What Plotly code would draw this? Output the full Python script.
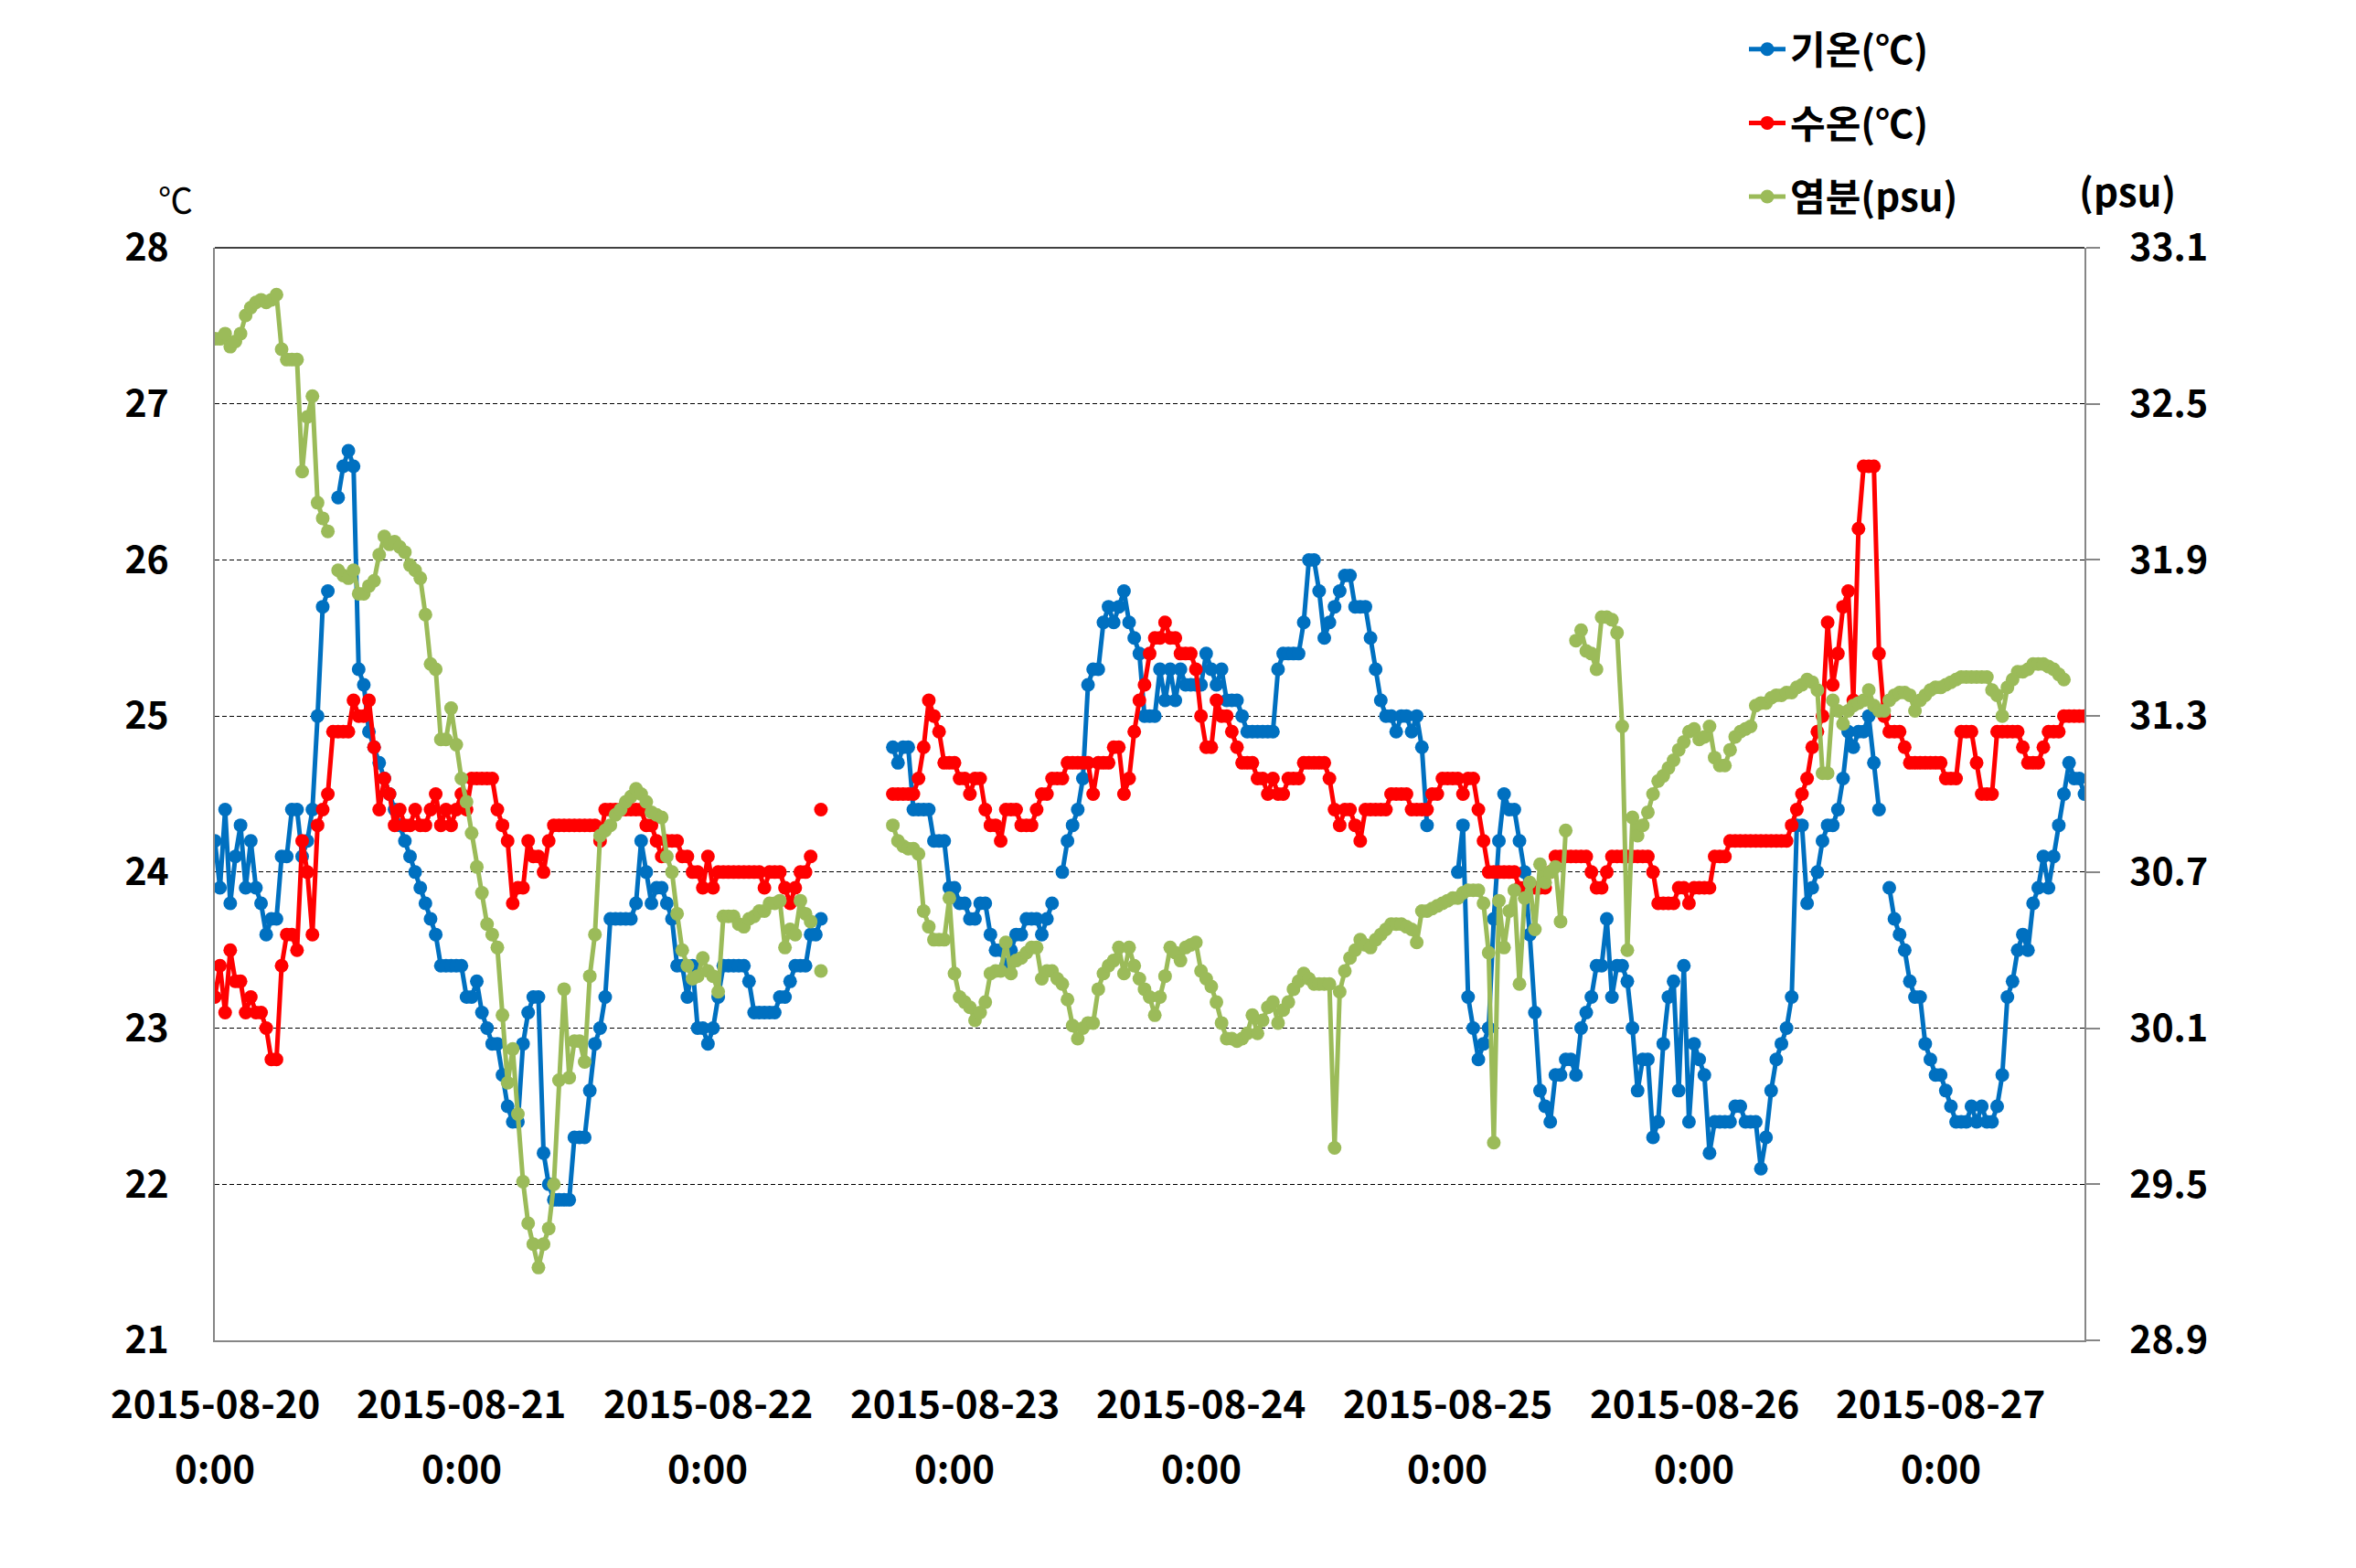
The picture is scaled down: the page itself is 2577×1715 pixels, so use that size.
import pandas as pd
import plotly.graph_objects as go

N = None
start_time = "2015-08-20 00:00"
interval = "30min"

# 기온 (air temperature, degC) - half-hourly readings
air_temp = (
    [24.2, 23.9, 24.4, 23.8, 24.1, 24.3, 23.9, 24.2, 23.9, 23.8, 23.6, 23.7, 23.7, 24.1, 24.1, 24.4,
     24.4, 24.1, 24.2, 24.4, 25.0, 25.7, 25.8]
    + [N]
    + [26.4, 26.6, 26.7, 26.6,
       25.3, 25.2, 24.9, 24.8, 24.7, 24.6, 24.5, 24.4, 24.3, 24.2,
       24.1, 24.0, 23.9, 23.8, 23.7, 23.6, 23.4,
       23.4, 23.4, 23.4, 23.4,
       23.2, 23.2, 23.3, 23.1, 23.0, 22.9, 22.9, 22.7, 22.5, 22.4, 22.4,
       22.9, 23.1, 23.2, 23.2,
       22.2, 22.0, 21.9, 21.9, 21.9, 21.9,
       22.3, 22.3, 22.3, 22.6, 22.9, 23.0, 23.2,
       23.7, 23.7, 23.7, 23.7, 23.7,
       23.8, 24.2, 24.0, 23.8, 23.9, 23.9, 23.8,
       23.7, 23.4, 23.4, 23.2, 23.4, 23.0, 23.0, 22.9, 23.0, 23.2, 23.4, 23.4, 23.4, 23.4, 23.4,
       23.3, 23.1, 23.1, 23.1, 23.1, 23.1, 23.2, 23.2, 23.3, 23.4, 23.4, 23.4, 23.6, 23.6, 23.7]
    + [N] * 13
    + [24.8, 24.7, 24.8, 24.8, 24.4, 24.4, 24.4, 24.4, 24.2, 24.2, 24.2, 23.9, 23.9, 23.8, 23.8, 23.7,
       23.7, 23.8, 23.8, 23.6, 23.5, 23.5, 23.4, 23.5, 23.6, 23.6, 23.7, 23.7, 23.7, 23.6, 23.7, 23.8]
    + [N]
    + [24.0, 24.2, 24.3, 24.4, 24.6, 25.2, 25.3, 25.3, 25.6, 25.7, 25.6, 25.7, 25.8, 25.6, 25.5, 25.4,
       25.0, 25.0, 25.0]
    + [25.3, 25.1, 25.3, 25.1, 25.3, 25.2, 25.2, 25.2, 25.2, 25.4, 25.3, 25.2, 25.3, 25.1, 25.1, 25.1,
       25.0, 24.9, 24.9, 24.9, 24.9, 24.9, 24.9, 25.3, 25.4, 25.4, 25.4, 25.4, 25.6, 26.0, 26.0, 25.8,
       25.5, 25.6, 25.7, 25.8, 25.9, 25.9, 25.7, 25.7, 25.7, 25.5, 25.3, 25.1, 25.0, 25.0, 24.9, 25.0,
       25.0, 24.9, 25.0, 24.8, 24.3]
    + [N] * 5
    + [24.0, 24.3, 23.2, 23.0, 22.8, 22.9, 23.0, 23.7, 24.2, 24.5, 24.4, 24.4, 24.2]
    + [24.0, 23.6, 23.1, 22.6, 22.5, 22.4, 22.7, 22.7, 22.8, 22.8, 22.7, 23.0, 23.1, 23.2, 23.4, 23.4,
       23.7, 23.2, 23.4, 23.4, 23.3, 23.0, 22.6, 22.8, 22.8, 22.3, 22.4, 22.9, 23.2, 23.3, 22.6, 23.4,
       22.4, 22.9, 22.8, 22.7, 22.2, 22.4, 22.4, 22.4, 22.4, 22.5, 22.5, 22.4, 22.4, 22.4, 22.1, 22.3,
       22.6, 22.8, 22.9, 23.0]
    + [23.2, 24.3, 24.3, 23.8, 23.9, 24.0, 24.2, 24.3, 24.3, 24.4, 24.6, 24.9, 24.8, 24.9, 24.9, 25.0,
       24.7, 24.4]
    + [N]
    + [23.9, 23.7, 23.6, 23.5, 23.3, 23.2, 23.2, 22.9, 22.8, 22.7, 22.7, 22.6, 22.5, 22.4, 22.4, 22.4,
       22.5, 22.4, 22.5, 22.4, 22.4, 22.5, 22.7, 23.2, 23.3, 23.5, 23.6, 23.5, 23.8, 23.9, 24.1, 23.9,
       24.1, 24.3, 24.5, 24.7, 24.6, 24.6, 24.5]
)

# 수온 (water temperature, degC)
water_temp = (
    [23.2, 23.4, 23.1, 23.5, 23.3, 23.3, 23.1, 23.2, 23.1, 23.1, 23.0, 22.8, 22.8, 23.4, 23.6, 23.6,
     23.5, 24.2, 24.0, 23.6, 24.3, 24.4, 24.5]
    + [24.9, 24.9, 24.9, 24.9, 25.1, 25.0, 25.0, 25.1, 24.8, 24.4, 24.6, 24.5, 24.3, 24.4, 24.3, 24.3,
       24.4, 24.3, 24.3, 24.4, 24.5, 24.3, 24.4, 24.3, 24.4, 24.5, 24.4]
    + [24.6, 24.6, 24.6, 24.6, 24.6, 24.4, 24.3, 24.2, 23.8, 23.9, 23.9, 24.2, 24.1, 24.1, 24.0, 24.2,
       24.3, 24.3, 24.3, 24.3, 24.3, 24.3, 24.3, 24.3, 24.3, 24.2, 24.4, 24.4, 24.4, 24.4, 24.4, 24.4,
       24.4]
    + [24.4, 24.3, 24.3, 24.2, 24.1, 24.2, 24.2, 24.2, 24.1, 24.1, 24.0, 24.0, 23.9, 24.1, 23.9, 24.0,
       24.0, 24.0, 24.0, 24.0, 24.0, 24.0, 24.0, 24.0, 23.9, 24.0, 24.0, 24.0, 23.9, 23.8, 23.9, 24.0,
       24.0, 24.1]
    + [N, 24.4]
    + [N] * 13
    + [24.5, 24.5, 24.5, 24.5, 24.5, 24.6, 24.8, 25.1, 25.0, 24.9, 24.7, 24.7, 24.7, 24.6, 24.6, 24.5,
       24.6, 24.6, 24.4, 24.3, 24.3, 24.2, 24.4, 24.4, 24.4, 24.3, 24.3, 24.3, 24.4, 24.5, 24.5, 24.6,
       24.6, 24.6, 24.7, 24.7, 24.7, 24.7, 24.7, 24.5, 24.7, 24.7, 24.7, 24.8, 24.8, 24.5, 24.6, 24.9,
       25.1, 25.2, 25.4, 25.5]
    + [25.5, 25.6, 25.5, 25.5, 25.4, 25.4, 25.4, 25.3, 25.0, 24.8, 24.8, 25.1, 25.0, 25.0, 24.9, 24.8,
       24.7, 24.7, 24.7, 24.6, 24.6, 24.5, 24.6, 24.5, 24.5, 24.6, 24.6, 24.6, 24.7, 24.7, 24.7, 24.7,
       24.7, 24.6, 24.4, 24.3, 24.4, 24.4, 24.3, 24.2, 24.4, 24.4, 24.4, 24.4, 24.4, 24.5, 24.5, 24.5,
       24.5, 24.4, 24.4, 24.4, 24.4, 24.5, 24.5, 24.6, 24.6, 24.6, 24.6, 24.5, 24.6, 24.6, 24.4, 24.2]
    + [24.0, 24.0, 24.0, 24.0, 24.0, 24.0, 23.9, 23.9, 23.9, 23.9, 23.9, 23.9, 24.0, 24.1, 24.1, 24.1,
       24.1, 24.1, 24.1, 24.1, 24.0, 23.9, 23.9, 24.0, 24.1, 24.1, 24.1, 24.1, 24.1, 24.1, 24.1, 24.1,
       24.0, 23.8, 23.8, 23.8, 23.8, 23.9, 23.9, 23.8, 23.9, 23.9, 23.9, 23.9, 24.1, 24.1, 24.1, 24.2,
       24.2, 24.2, 24.2, 24.2, 24.2, 24.2, 24.2, 24.2, 24.2, 24.2, 24.2]
    + [24.3, 24.4, 24.5, 24.6, 24.8, 24.9, 25.0, 25.6, 25.2, 25.4, 25.7, 25.8, 25.1, 26.2, 26.6, 26.6,
       26.6, 25.4, 25.0, 24.9, 24.9, 24.9, 24.8]
    + [24.7, 24.7, 24.7, 24.7, 24.7, 24.7, 24.7, 24.6, 24.6, 24.6, 24.9, 24.9, 24.9, 24.7, 24.5, 24.5,
       24.5, 24.9, 24.9, 24.9, 24.9, 24.9, 24.8, 24.7, 24.7, 24.7, 24.8, 24.9, 24.9, 24.9, 25.0, 25.0,
       25.0, 25.0, 25.0]
)

# 염분 (salinity, psu)
salinity = (
    [32.75, 32.75, 32.77, 32.72, 32.74, 32.77, 32.84, 32.87, 32.89, 32.90, 32.89, 32.90, 32.92, 32.71,
     32.67, 32.67, 32.67, 32.24, 32.45, 32.53, 32.12, 32.06, 32.01]
    + [N]
    + [31.86, 31.84, 31.83, 31.86, 31.77, 31.77, 31.80, 31.82, 31.92, 31.99, 31.96, 31.97, 31.95, 31.93,
       31.88, 31.86, 31.83, 31.69, 31.50, 31.48, 31.21, 31.21, 31.33, 31.19, 31.06, 30.97, 30.85, 30.72,
       30.62, 30.50, 30.46, 30.41, 30.15, 29.89, 30.02, 29.77]
    + [29.51, 29.35, 29.27, 29.18, 29.27, 29.33, 29.50, 29.90, 30.25, 29.91, 30.05, 30.05, 29.97, 30.30,
       30.46, 30.84]
    + [30.86, 30.88, 30.92, 30.94, 30.97, 30.99, 31.02, 31.00, 30.97, 30.93, 30.92, 30.91, 30.76, 30.70,
       30.54, 30.40, 30.34, 30.29, 30.30, 30.37, 30.32, 30.30, 30.24, 30.53, 30.53, 30.53, 30.50, 30.49,
       30.52, 30.53, 30.55, 30.55, 30.58, 30.58, 30.59, 30.41, 30.48, 30.46, 30.59, 30.54, 30.51]
    + [N, 30.32]
    + [N] * 13
    + [30.88, 30.82, 30.80, 30.79, 30.79, 30.77, 30.55, 30.49, 30.44, 30.44, 30.44, 30.60, 30.31, 30.22,
       30.20, 30.18, 30.13, 30.16, 30.20, 30.31, 30.32, 30.32, 30.43, 30.31, 30.36, 30.37, 30.39, 30.41,
       30.41, 30.29, 30.32, 30.32, 30.29, 30.27, 30.21, 30.11, 30.06, 30.10, 30.12, 30.12, 30.25, 30.31,
       30.34, 30.36, 30.41, 30.31, 30.41, 30.34]
    + [30.29, 30.25, 30.22, 30.15, 30.22, 30.30, 30.41, 30.39, 30.36, 30.41, 30.42, 30.43, 30.32, 30.29,
       30.26, 30.20, 30.12, 30.06, 30.06, 30.05, 30.06, 30.08, 30.15, 30.08, 30.13, 30.18, 30.20, 30.12,
       30.17, 30.20, 30.25, 30.28, 30.31, 30.29, 30.27, 30.27, 30.27, 30.27, 29.64, 30.24, 30.32, 30.37,
       30.40, 30.44, 30.42, 30.41, 30.44, 30.46, 30.48, 30.50, 30.50, 30.50, 30.49, 30.48, 30.43, 30.55]
    + [30.55, 30.56, 30.57, 30.58, 30.59, 30.60, 30.60, 30.62, 30.63, 30.63, 30.63, 30.58, 30.39, 29.66,
       30.59, 30.41, 30.55, 30.63, 30.27, 30.60, 30.66, 30.48, 30.73, 30.66, 30.70, 30.72, 30.51, 30.86]
    + [N]
    + [31.59, 31.63, 31.55, 31.54, 31.48, 31.68, 31.68, 31.67, 31.62, 31.26, 30.40, 30.91, 30.84, 30.88,
       30.93, 31.00, 31.05, 31.07, 31.10, 31.13, 31.17, 31.20, 31.24, 31.25, 31.21, 31.22, 31.26, 31.14,
       31.11, 31.11, 31.17, 31.22, 31.24, 31.25, 31.26, 31.34, 31.35, 31.35, 31.37, 31.38, 31.38, 31.39,
       31.39, 31.41, 31.42]
    + [31.44, 31.43, 31.40, 31.08, 31.08, 31.36, 31.32, 31.27, 31.32, 31.34, 31.35, 31.36, 31.40, 31.34,
       31.32, 31.32, 31.36, 31.38, 31.39, 31.39, 31.38, 31.32, 31.36, 31.38, 31.40, 31.41, 31.41, 31.42,
       31.43, 31.44, 31.45, 31.45, 31.45, 31.45, 31.45, 31.45, 31.40, 31.38, 31.30, 31.41, 31.44, 31.47,
       31.47, 31.48, 31.50, 31.50, 31.50, 31.49, 31.48, 31.46, 31.44]
    + [N] * 4
)

assert len(air_temp) == len(water_temp) == len(salinity) == 365, (len(air_temp), len(water_temp), len(salinity))

series_names = ["기온(℃)", "수온(℃)", "염분(psu)"]
day_labels = ["2015-08-20", "2015-08-21", "2015-08-22", "2015-08-23",
              "2015-08-24", "2015-08-25", "2015-08-26", "2015-08-27"]
time_label = "0:00"
left_ticks = [21, 22, 23, 24, 25, 26, 27, 28]
right_ticks = [28.9, 29.5, 30.1, 30.7, 31.3, 31.9, 32.5, 33.1]

x = pd.date_range(start_time, periods=len(air_temp), freq=interval)

FONT = "Noto Sans CJK KR"
BLUE, RED, GREEN = "#0070C0", "#FF0000", "#9BBB59"
AXIS_GREY = "#868686"

fig = go.Figure()
for name, vals, color, axis, grp in [
    (series_names[0], air_temp, BLUE, "y", "g1"),
    (series_names[1], water_temp, RED, "y", "g2"),
    (series_names[2], salinity, GREEN, "y2", "g3"),
]:
    fig.add_trace(go.Scatter(
        x=x, y=vals, name=name, yaxis=axis, mode="lines+markers",
        line=dict(color=color, width=5),
        marker=dict(color=color, size=15),
        legendgroup=grp, connectgaps=False,
    ))

# page body adds an 8px offset; target positions below are in screenshot pixels
OFF = 8
W, H = 2577, 1715
PL, PR, PT, PB = 235, 2280, 271, 1466          # plot edges in screenshot pixels
ML, MT = PL - OFF, PT - OFF
MR, MB = W - (PR - OFF), H - (PB - OFF)

def px(sx):
    return (sx - PL) / (PR - PL)

def py(sy):
    return (PB - sy) / (PB - PT)

annotations = []
for lab in day_labels:
    annotations.append(dict(x=pd.Timestamp(lab), y=py(1532), xref="x", yref="paper",
                            text=lab, showarrow=False, xanchor="center", yanchor="middle",
                            font=dict(family=FONT, size=42, color="black", weight="bold")))
    annotations.append(dict(x=pd.Timestamp(lab), y=py(1603), xref="x", yref="paper",
                            text=time_label, showarrow=False, xanchor="center", yanchor="middle",
                            font=dict(family=FONT, size=42, color="black", weight="bold")))
annotations.append(dict(x=px(192), y=py(217), xref="paper", yref="paper",
                        text="℃", showarrow=False, xanchor="center", yanchor="middle",
                        font=dict(family=FONT, size=38, color="black")))
annotations.append(dict(x=px(2327), y=py(208), xref="paper", yref="paper",
                        text="(psu)", showarrow=False, xanchor="center", yanchor="middle",
                        font=dict(family=FONT, size=42, color="black", weight="bold")))

fig.update_layout(
    width=W, height=H,
    margin=dict(l=ML, r=MR, t=MT, b=MB, autoexpand=False),
    paper_bgcolor="white", plot_bgcolor="white",
    font=dict(family=FONT, color="black"),
    showlegend=True,
    legend=dict(x=px(1908), y=py(20), xanchor="left", yanchor="top",
                font=dict(family=FONT, size=42, color="black", weight="bold"),
                itemwidth=40,
                traceorder="grouped", tracegroupgap=23, bgcolor="rgba(0,0,0,0)"),
    xaxis=dict(type="date", range=[x[0], x[-1]], showgrid=False, showticklabels=False,
               showline=True, linecolor=AXIS_GREY, linewidth=2, ticks="", zeroline=False),
    yaxis=dict(range=[21, 28], tickvals=left_ticks, ticktext=[str(v) for v in left_ticks],
               showgrid=True, gridcolor="black", gridwidth=1.3, griddash="5px,3px",
               showline=True, linecolor=AXIS_GREY, linewidth=2, ticks="", zeroline=False,
               ticklabelstandoff=40,
               tickfont=dict(family=FONT, size=41, color="black", weight="bold")),
    yaxis2=dict(range=[28.9, 33.1], tickvals=right_ticks, ticktext=[f"{v:.1f}" for v in right_ticks],
                overlaying="y", side="right", showgrid=False, zeroline=False,
                showline=True, linecolor=AXIS_GREY, linewidth=2,
                ticks="outside", ticklen=15, tickcolor=AXIS_GREY, tickwidth=2,
                ticklabelstandoff=24,
                tickfont=dict(family=FONT, size=41, color="black", weight="bold")),
    annotations=annotations,
    shapes=[dict(type="line", xref="paper", yref="paper", x0=0, x1=1, y0=1, y1=1,
                 line=dict(color="black", width=1.5))],
)

fig.write_html("out.html")
